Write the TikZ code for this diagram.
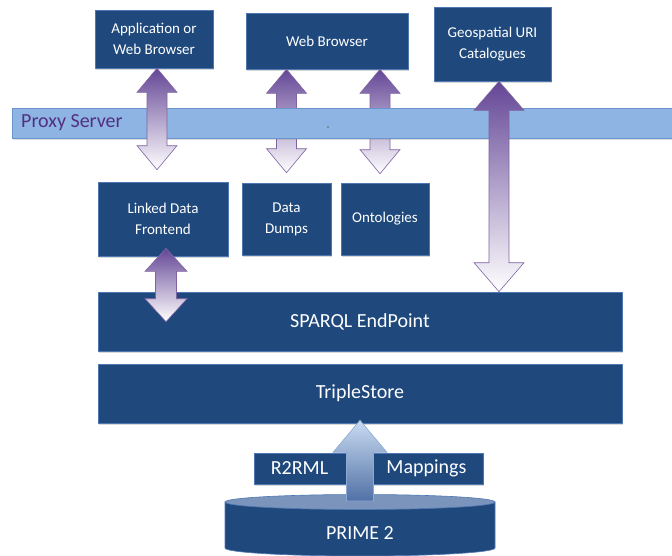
\documentclass[tikz,border=0pt]{standalone}
\usepackage{fontspec}
\setmainfont{Carlito}
\usepackage{tikz}
\usetikzlibrary{calc,shadows}
\definecolor{boxBlue}{RGB}{31,73,125}
\definecolor{boxEdge}{RGB}{79,120,178}
\definecolor{proxyBlue}{RGB}{141,180,226}
\definecolor{proxyEdge}{RGB}{108,148,205}
\definecolor{proxyText}{RGB}{84,48,128}
\definecolor{flowPurple}{RGB}{100,70,150}
\definecolor{flowEdge}{RGB}{128,100,162}
\definecolor{mapTop}{RGB}{202,220,242}
\definecolor{mapBottom}{RGB}{80,112,165}
\definecolor{mapEdge}{RGB}{140,170,212}
\definecolor{diskTop}{RGB}{122,148,188}

% block arrow with two heads: top tip, bottom tip, half head, half shaft, head length
\newcommand{\twoway}[6][]{%
  \path[#1] let \p1=#2, \p2=#3 in
    (\x1,\y1) -- (\x1+#4pt,\y1-#6pt) -- (\x1+#5pt,\y1-#6pt) -- (\x1+#5pt,\y2+#6pt)
    -- (\x1+#4pt,\y2+#6pt) -- (\x1,\y2) -- (\x1-#4pt,\y2+#6pt) -- (\x1-#5pt,\y2+#6pt)
    -- (\x1-#5pt,\y1-#6pt) -- (\x1-#4pt,\y1-#6pt) -- cycle;}
% block arrow pointing up: tip, foot, half head, half shaft, head length
\newcommand{\upway}[6][]{%
  \path[#1] let \p1=#2, \p2=#3 in
    (\x1,\y1) -- (\x1+#4pt,\y1-#6pt) -- (\x1+#5pt,\y1-#6pt) -- (\x1+#5pt,\y2)
    -- (\x1-#5pt,\y2) -- (\x1-#5pt,\y1-#6pt) -- (\x1-#4pt,\y1-#6pt) -- cycle;}

\begin{document}
\begin{tikzpicture}[x=1pt,y=-1pt,
    box/.style={draw=boxEdge,line width=0.6pt,fill=boxBlue,text=white,align=center,
      inner sep=0pt,font=\fontsize{15}{21}\selectfont,
      drop shadow={shadow xshift=1pt,shadow yshift=-1.5pt,opacity=0.3}},
    wide/.style={box,font=\fontsize{20}{24}\selectfont,minimum width=524pt,minimum height=59pt},
    big/.style={text=white,font=\fontsize{20}{24}\selectfont},
    flow/.style={draw=flowEdge,line width=0.6pt,top color=flowPurple,bottom color=white},
    feed/.style={draw=mapEdge,line width=0.6pt,top color=mapTop,bottom color=mapBottom}]
  \useasboundingbox (0,0) rectangle (672,555);

  % Clients
  \node[box,minimum width=118pt,minimum height=58pt] (app) at (154,39) {Application or\\Web Browser};
  \node[box,minimum width=162pt,minimum height=56pt] (web) at (327,41) {Web Browser};
  \node[box,minimum width=117pt,minimum height=74pt] (geo) at (492.5,44) {Geospatial URI\\Catalogues};

  % Services
  \node[box,minimum width=130pt,minimum height=74pt] (ldf) at (163,219) {Linked Data\\Frontend};
  \node[box,minimum width=89pt,minimum height=72pt] (dumps) at (286.5,219) {Data\\Dumps};
  \node[box,minimum width=88pt,minimum height=72pt] (onto) at (385,219) {Ontologies};
  \node[wide] (sparql) at (360,321.5) {SPARQL EndPoint};
  \node[wide] (triple) at (360,393.5) {TripleStore};

  % Arrow ends
  \coordinate (appT) at ($(app.south)+(3,0)$);
  \coordinate (appB) at ($(ldf.north)+(-6,-12)$);
  \coordinate (dumpsT) at (dumps.north |- web.south);
  \coordinate (dumpsB) at ($(dumps.north)+(0,-10)$);
  \coordinate (ontoN) at (onto.north |- web.south);
  \coordinate (ontoT) at ($(ontoN)+(-5,0)$);
  \coordinate (ontoB) at ($(onto.north)+(-5,-9)$);
  \coordinate (geoT) at ($(geo.south)+(6.5,0)$);
  \coordinate (geoB) at (geoT |- sparql.north);
  \coordinate (ldfT) at ($(ldf.south)+(3,-8)$);
  \coordinate (ldfN) at (ldfT |- sparql.north);
  \coordinate (ldfB) at ($(ldfN)+(0,30)$);

  % Web browser arrows pass under the proxy
  \twoway[flow]{(dumpsT)}{(dumpsB)}{20}{10}{24}
  \twoway[flow]{(ontoT)}{(ontoB)}{20}{10}{24}

  % Proxy
  \node[fill=proxyBlue,draw=proxyEdge,line width=0.5pt,minimum width=670pt,minimum height=30pt,
    inner sep=0pt,anchor=west,drop shadow={shadow xshift=0.5pt,shadow yshift=-1.5pt,opacity=0.25}]
    (proxy) at (12,123) {};
  \node[anchor=west,inner xsep=9pt,text=proxyText,font=\fontsize{20}{24}\selectfont]
    (proxylbl) at (proxy.west) {Proxy Server};
  \fill[black!60] (328,127) circle (0.8pt);

  \twoway[flow]{(appT)}{(appB)}{20}{10}{24}
  \twoway[flow]{(geoT)}{(geoB)}{25}{10}{29}
  \twoway[flow]{(ldfT)}{(ldfB)}{21}{10.5}{23}

  % Mappings and database
  \node[box,minimum width=229pt,minimum height=31pt] (bar) at (368.5,468.5) {};
  \node[big] (r2) at (299.5,468.5) {R2RML};
  \node[big] (maps) at (426.5,468.5) {Mappings};
  \fill[boxBlue,draw=boxEdge,line width=0.6pt] (225,502) -- (225,548)
    arc[start angle=180,end angle=360,x radius=135pt,y radius=8pt] -- (495,502) -- cycle;
  \filldraw[fill=diskTop,draw=boxEdge,line width=0.6pt] (360,502) ellipse [x radius=135pt,y radius=7.5pt];
  \coordinate (disk) at (360,501);
  \node[big] (prime) at (360,533) {PRIME 2};
  \coordinate (tripleT) at ($(triple.south)+(0,-3)$);
  \upway[feed]{(tripleT)}{(disk)}{27}{13.5}{32}
\end{tikzpicture}
\end{document}
